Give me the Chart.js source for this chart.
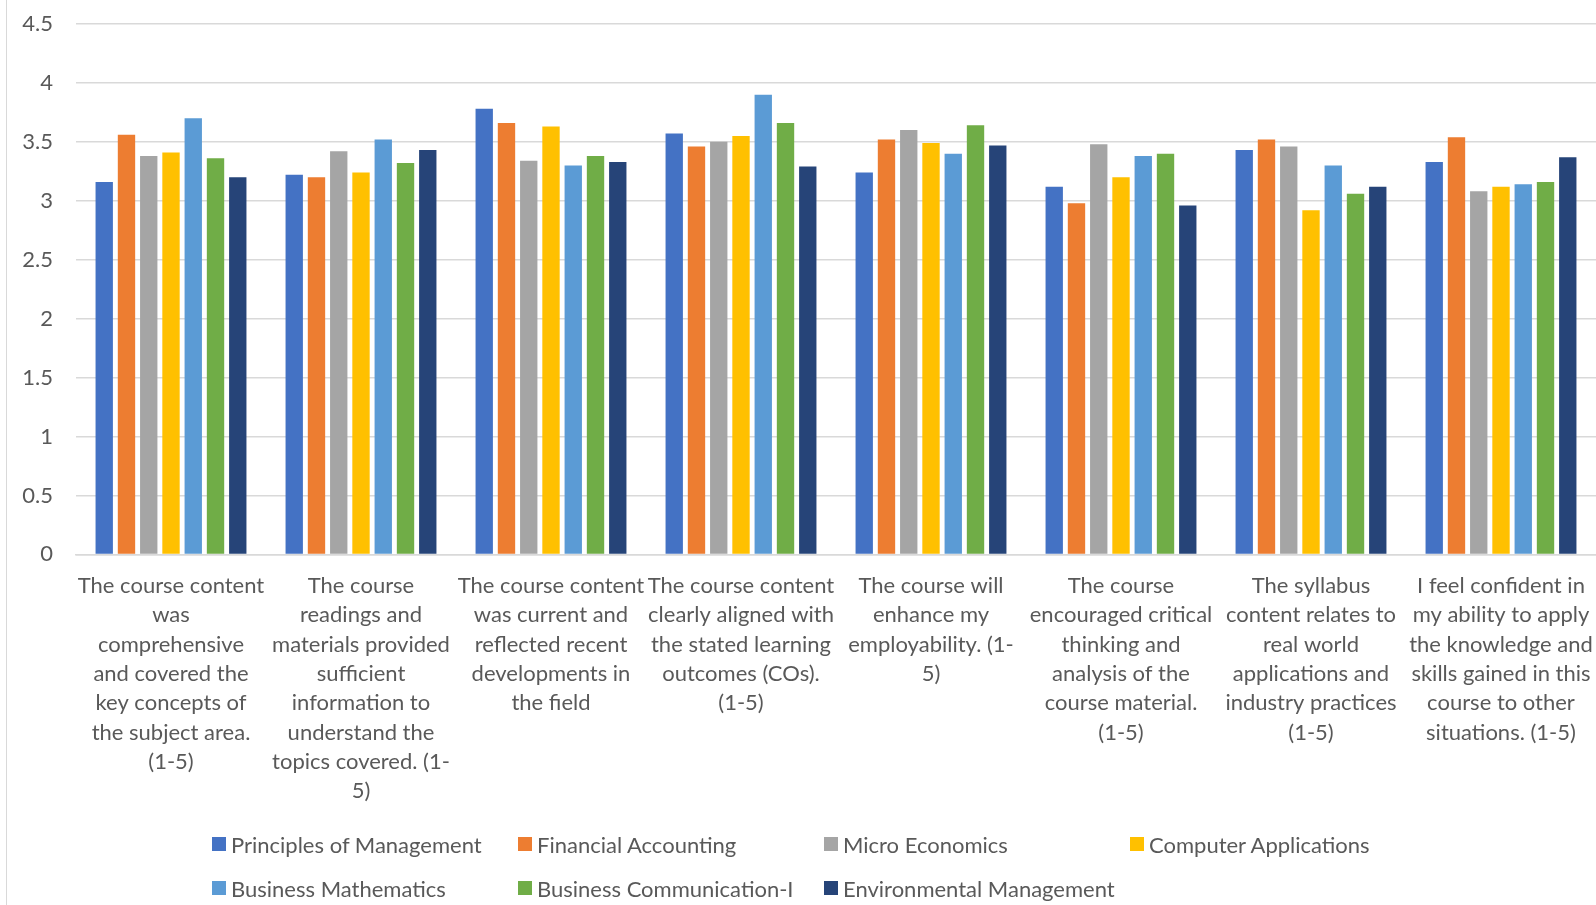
<!DOCTYPE html>
<html>
<head>
<meta charset="utf-8">
<script src="https://cdn.jsdelivr.net/npm/chart.js@4.4.1/dist/chart.umd.min.js"></script>
<style>
    html, body { margin: 0; padding: 0; background: #fff; }
    #wrap { position: relative; width: 1596px; height: 905px; overflow: hidden; }
    #frame { position: absolute; left: 6px; top: 0; width: 1px; height: 905px; background: #d9d9d9; }
    #legend { position: absolute; left: 212px; top: 826px; font-family: Lato, sans-serif; font-size: 22px; color: #595959; }
    #legend .item { position: absolute; white-space: nowrap; display: flex; align-items: center; height: 36px; }
    #legend .box { width: 14px; height: 14px; margin-right: 5px; }
</style>
</head>
<body>
<div id="wrap">
    <canvas id="chart" width="1596" height="905"></canvas>
    <div id="frame"></div>
    <div id="legend"></div>
</div>
<script>
// Survey questions (x categories), wrapped the way they are printed
const questions = [
    ["The course content", "was", "comprehensive", "and covered the", "key concepts of", "the subject area.", "(1-5)"],
    ["The course", "readings and", "materials provided", "sufficient", "information to", "understand the", "topics covered. (1-", "5)"],
    ["The course content", "was current and", "reflected recent", "developments in", "the field"],
    ["The course content", "clearly aligned with", "the stated learning", "outcomes (COs).", "(1-5)"],
    ["The course will", "enhance my", "employability. (1-", "5)"],
    ["The course", "encouraged critical", "thinking and", "analysis of the", "course material.", "(1-5)"],
    ["The syllabus", "content relates to", "real world", "applications and", "industry practices", "(1-5)"],
    ["I feel confident in", "my ability to apply", "the knowledge and", "skills gained in this", "course to other", "situations. (1-5)"]
]

// Mean rating per course, one value per question
const principlesOfManagement = [3.16, 3.22, 3.78, 3.57, 3.24, 3.12, 3.43, 3.33]
const financialAccounting    = [3.56, 3.20, 3.66, 3.46, 3.52, 2.98, 3.52, 3.54]
const microEconomics         = [3.38, 3.42, 3.34, 3.50, 3.60, 3.48, 3.46, 3.08]
const computerApplications   = [3.41, 3.24, 3.63, 3.55, 3.49, 3.20, 2.92, 3.12]
const businessMathematics    = [3.70, 3.52, 3.30, 3.90, 3.40, 3.38, 3.30, 3.14]
const businessCommunication  = [3.36, 3.32, 3.38, 3.66, 3.64, 3.40, 3.06, 3.16]
const environmentalMgmt      = [3.20, 3.43, 3.33, 3.29, 3.47, 2.96, 3.12, 3.37]

const courses = [
    ["Principles of Management", principlesOfManagement, "#4472C4"],
    ["Financial Accounting", financialAccounting, "#ED7D31"],
    ["Micro Economics", microEconomics, "#A5A5A5"],
    ["Computer Applications", computerApplications, "#FFC000"],
    ["Business Mathematics", businessMathematics, "#5B9BD5"],
    ["Business Communication-I", businessCommunication, "#70AD47"],
    ["Environmental Management", environmentalMgmt, "#264478"]
]

const textColor = "#595959"
const gridColor = "#d9d9d9"
const fontFamily = "Lato, sans-serif"

const chart = new Chart(document.getElementById("chart"), {
    type: "bar",
    data: {
        labels: questions,
        datasets: courses.map(([name, values, color]) => ({
            label: name,
            data: values,
            backgroundColor: color,
            categoryPercentage: 0.82,
            barPercentage: 0.78
        }))
    },
    options: {
        responsive: false,
        animation: false,
        layout: { padding: { left: 20, right: 0, top: 0, bottom: 90 } },
        plugins: {
            legend: { display: false },
            tooltip: { enabled: false }
        },
        scales: {
            x: {
                grid: { display: false },
                border: { color: gridColor, width: 1.5 },
                ticks: {
                    color: textColor,
                    font: { family: fontFamily, size: 22, lineHeight: 1.333 },
                    padding: 9,
                    autoSkip: false,
                    maxRotation: 0,
                    minRotation: 0
                },
                // long wrapped labels shouldn't shrink the plot sideways
                afterFit: (scale) => {
                    scale.paddingLeft = 0
                    scale.paddingRight = 0
                }
            },
            y: {
                min: 0,
                max: 4.5,
                border: { display: false },
                grid: { color: gridColor, lineWidth: 1.5, drawTicks: false },
                ticks: {
                    stepSize: 0.5,
                    color: textColor,
                    font: { family: fontFamily, size: 22 },
                    padding: 23,
                    callback: (value) => String(Number(value.toFixed(1)))
                },
                afterFit: (scale) => {
                    scale.width = 56
                    scale.paddingTop = 24
                    scale.paddingBottom = 0
                }
            }
        }
    }
})

// Legend in four fixed-width columns
const legend = document.getElementById("legend")
chart.data.datasets.forEach((ds, i) => {
    const item = document.createElement("div")
    item.className = "item"
    item.style.left = (i % 4) * 306 + "px"
    item.style.top = Math.floor(i / 4) * 44 + "px"
    const box = document.createElement("span")
    box.className = "box"
    box.style.background = ds.backgroundColor
    item.appendChild(box)
    item.appendChild(document.createTextNode(ds.label))
    legend.appendChild(item)
})
</script>
</body>
</html>
